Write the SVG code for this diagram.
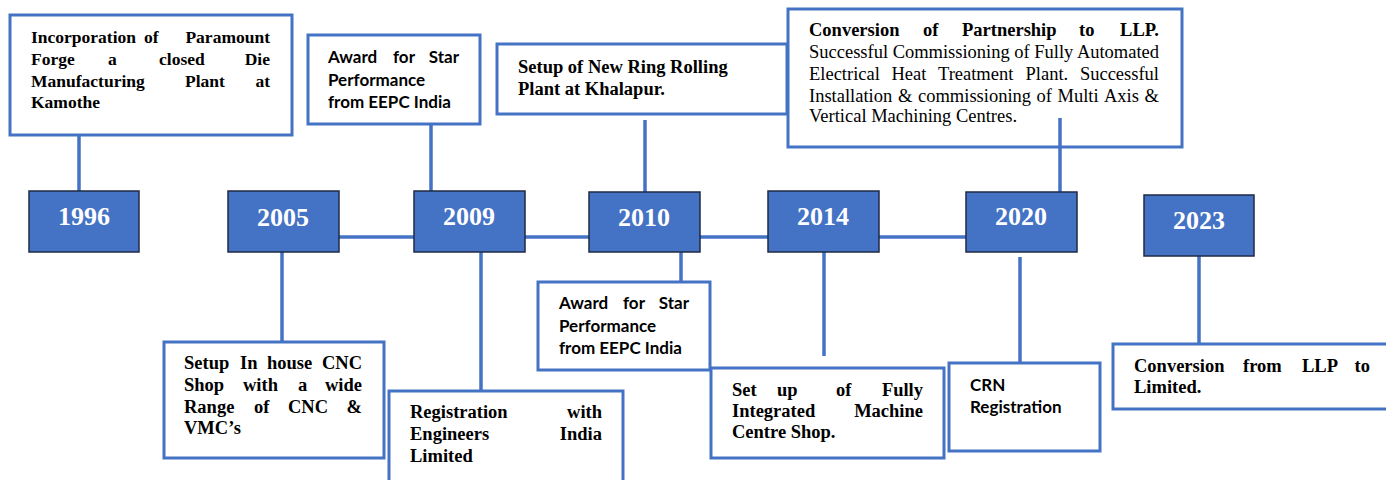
<svg xmlns="http://www.w3.org/2000/svg" width="1386" height="480" viewBox="0 0 1386 480">
<style>
.box{fill:#fff;stroke:#4472C4;stroke-width:3}
.yr{fill:#4472C4;stroke:#1F2A44;stroke-width:1.5}
.yt{font-family:"Liberation Serif",serif;font-weight:bold;font-size:26px;fill:#fff;text-anchor:middle}
.tb{font-family:"Liberation Serif",serif;font-weight:bold;font-size:18.5px;fill:#000}
.tb1{font-family:"Liberation Serif",serif;font-weight:bold;font-size:17.5px;fill:#000}
.tr{font-family:"Liberation Serif",serif;font-size:18.5px;fill:#000}
.sb{font-family:Lato,"Liberation Sans",sans-serif;font-weight:bold;font-size:17px;fill:#000}
.e{text-anchor:end}
.c{stroke:#4472C4;stroke-width:3.5;fill:none}
</style>
<rect width="1386" height="480" fill="#fff"/>
<g id="n-incorporation">
<rect class="box" x="10" y="15" width="282" height="120"/>
<text class="tb1" y="43"><tspan x="31">Incorporation</tspan><tspan x="144">of</tspan></text>
<text class="tb1 e" x="270" y="43">Paramount</text>
<text class="tb1" y="65"><tspan x="31">Forge</tspan><tspan x="108">a</tspan><tspan x="159">closed</tspan></text>
<text class="tb1 e" x="270" y="65">Die</text>
<text class="tb1" y="87"><tspan x="31">Manufacturing</tspan><tspan x="185">Plant</tspan></text>
<text class="tb1 e" x="270" y="87">at</text>
<text class="tb1" x="31" y="108">Kamothe</text>
</g>
<g id="n-award-2009">
<rect class="box" x="308" y="35" width="172" height="89"/>
<text class="sb" y="63"><tspan x="328">Award</tspan><tspan x="393">for</tspan></text>
<text class="sb e" x="459" y="63">Star</text>
<text class="sb" x="328" y="86">Performance</text>
<text class="sb" x="328" y="108">from EEPC India</text>
</g>
<g id="n-ring-rolling">
<rect class="box" x="497" y="44" width="290" height="70"/>
<text class="tb" x="518" y="73">Setup of New Ring Rolling</text>
<text class="tb" x="518" y="95">Plant at Khalapur.</text>
</g>
<g id="n-llp">
<rect class="box" x="788" y="9" width="394" height="138"/>
<text class="tb" y="36"><tspan x="809">Conversion</tspan><tspan x="923">of</tspan><tspan x="962">Partnership</tspan><tspan x="1079">to</tspan></text>
<text class="tb e" x="1159" y="36">LLP.</text>
<text class="tr" x="809" y="58" textLength="350" lengthAdjust="spacing">Successful Commissioning of Fully Automated</text>
<text class="tr" y="80"><tspan x="809">Electrical</tspan><tspan x="891.5">Heat</tspan><tspan x="938">Treatment</tspan><tspan x="1025.5">Plant.</tspan></text>
<text class="tr e" x="1159" y="80">Successful</text>
<text class="tr" y="102"><tspan x="809">Installation</tspan><tspan x="898">&amp;</tspan><tspan x="918">commissioning</tspan><tspan x="1036.5">of</tspan><tspan x="1057.5">Multi</tspan><tspan x="1104">Axis</tspan></text>
<text class="tr e" x="1159" y="102">&amp;</text>
<text class="tr" x="809" y="122">Vertical Machining Centres.</text>
</g>
<g id="n-cnc">
<rect class="box" x="164" y="342" width="220" height="116"/>
<text class="tb" y="369"><tspan x="184">Setup</tspan><tspan x="240">In</tspan><tspan x="267">house</tspan></text>
<text class="tb e" x="362" y="369">CNC</text>
<text class="tb" y="391"><tspan x="184">Shop</tspan><tspan x="243">with</tspan><tspan x="298">a</tspan></text>
<text class="tb e" x="362" y="391">wide</text>
<text class="tb" y="413"><tspan x="184">Range</tspan><tspan x="254">of</tspan><tspan x="288">CNC</tspan></text>
<text class="tb e" x="362" y="413">&amp;</text>
<text class="tb" x="184" y="434">VMC’s</text>
</g>
<g id="n-registration">
<rect class="box" x="389" y="391" width="234" height="110"/>
<text class="tb" x="410" y="418">Registration</text>
<text class="tb e" x="602" y="418">with</text>
<text class="tb" x="410" y="440">Engineers</text>
<text class="tb e" x="602" y="440">India</text>
<text class="tb" x="410" y="462">Limited</text>
</g>
<g id="n-award-2010">
<rect class="box" x="538" y="282" width="172" height="88"/>
<text class="sb" y="309"><tspan x="559">Award</tspan><tspan x="623">for</tspan></text>
<text class="sb e" x="689" y="309">Star</text>
<text class="sb" x="559" y="332">Performance</text>
<text class="sb" x="559" y="354">from EEPC India</text>
</g>
<g id="n-machine-centre">
<rect class="box" x="711" y="368" width="233" height="90"/>
<text class="tb" y="396"><tspan x="732">Set</tspan><tspan x="777">up</tspan><tspan x="836">of</tspan></text>
<text class="tb e" x="923" y="396">Fully</text>
<text class="tb" x="732" y="417">Integrated</text>
<text class="tb e" x="923" y="417">Machine</text>
<text class="tb" x="732" y="438">Centre Shop.</text>
</g>
<g id="n-crn">
<rect class="box" x="949" y="363" width="151" height="88"/>
<text class="sb" x="970" y="391">CRN</text>
<text class="sb" x="970" y="413">Registration</text>
</g>
<g id="n-limited">
<rect class="box" x="1113" y="344" width="290" height="65"/>
<text class="tb" y="372"><tspan x="1134">Conversion</tspan><tspan x="1243">from</tspan><tspan x="1302">LLP</tspan></text>
<text class="tb e" x="1370" y="372">to</text>
<text class="tb" x="1134" y="393">Limited.</text>
</g>
<g id="connectors">
<line class="c" x1="79" y1="135" x2="79" y2="191"/>
<line class="c" x1="282" y1="252" x2="282" y2="342"/>
<line class="c" x1="339" y1="237" x2="414" y2="237"/>
<line class="c" x1="431" y1="124" x2="431" y2="191"/>
<line class="c" x1="481" y1="252" x2="481" y2="391"/>
<line class="c" x1="525" y1="237" x2="589" y2="237"/>
<line class="c" x1="645" y1="120" x2="645" y2="192"/>
<line class="c" x1="681" y1="252" x2="681" y2="282"/>
<line class="c" x1="700" y1="237" x2="768" y2="237"/>
<line class="c" x1="824" y1="252" x2="824" y2="356"/>
<line class="c" x1="879" y1="237" x2="966" y2="237"/>
<line class="c" x1="1060" y1="118" x2="1060" y2="192"/>
<line class="c" x1="1020" y1="257" x2="1020" y2="363"/>
<line class="c" x1="1199" y1="256" x2="1199" y2="344"/>
</g>
<g id="y1996"><rect class="yr" x="29" y="191" width="110" height="61"/><text class="yt" x="84" y="225">1996</text></g>
<g id="y2005"><rect class="yr" x="228" y="191" width="111" height="61"/><text class="yt" x="283" y="226">2005</text></g>
<g id="y2009"><rect class="yr" x="414" y="191" width="111" height="61"/><text class="yt" x="469" y="225">2009</text></g>
<g id="y2010"><rect class="yr" x="589" y="192" width="111" height="60"/><text class="yt" x="644" y="226">2010</text></g>
<g id="y2014"><rect class="yr" x="768" y="191" width="111" height="61"/><text class="yt" x="823" y="225">2014</text></g>
<g id="y2020"><rect class="yr" x="966" y="192" width="111" height="60"/><text class="yt" x="1021" y="225">2020</text></g>
<g id="y2023"><rect class="yr" x="1144" y="195" width="110" height="61"/><text class="yt" x="1199" y="229">2023</text></g>
</svg>
